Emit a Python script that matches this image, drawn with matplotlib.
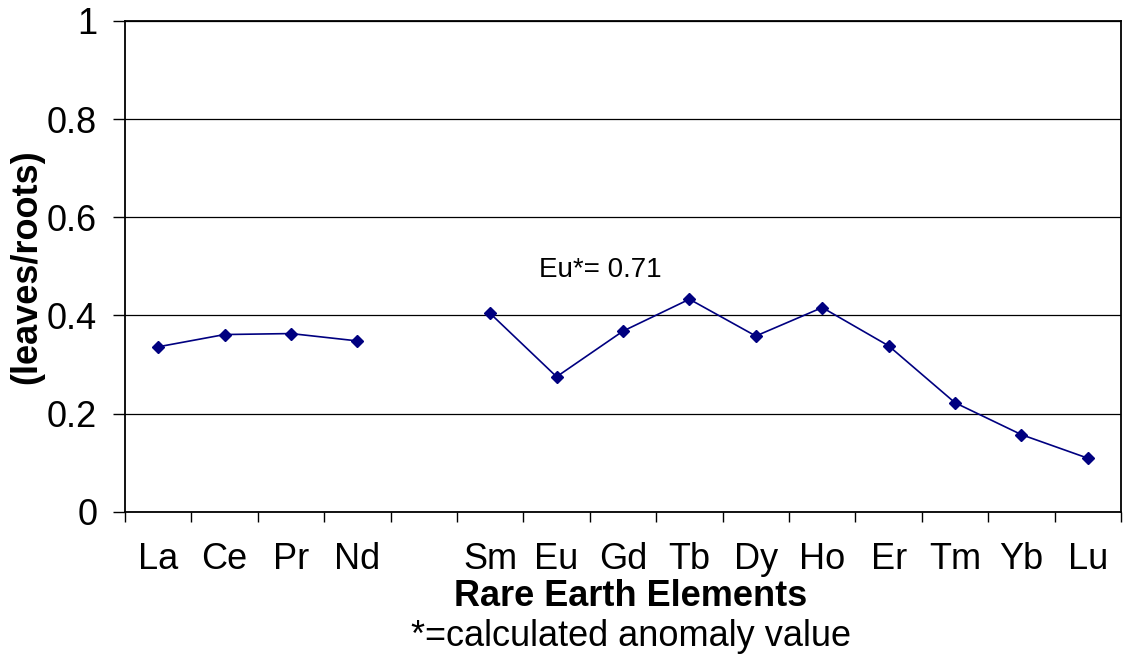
import numpy as np
import matplotlib.pyplot as plt
from matplotlib.ticker import FixedLocator, NullFormatter

plt.rcParams['font.family'] = ['Liberation Sans', 'DejaVu Sans']

# categories (Pm left blank in the original)
elements = ['La', 'Ce', 'Pr', 'Nd', '', 'Sm', 'Eu', 'Gd', 'Tb', 'Dy', 'Ho', 'Er', 'Tm', 'Yb', 'Lu']
# leaves/roots ratio, None = no value
ratio = [0.336, 0.361, 0.363, 0.348, None, 0.404, 0.275, 0.368, 0.433, 0.358, 0.416, 0.338, 0.222, 0.157, 0.109]
y_ticks = [0, 0.2, 0.4, 0.6, 0.8, 1]
y_tick_labels = ['0', '0.2', '0.4', '0.6', '0.8', '1']
note = 'Eu*= 0.71'

fig = plt.figure(figsize=(11.31, 6.66), dpi=100)
ax = fig.add_axes([0.1105, 0.2317, 0.8807, 0.7368])

x = np.arange(len(elements))
y = np.array([np.nan if v is None else v for v in ratio])
ax.plot(x, y, color='#000080', lw=1.2, marker='D', ms=6.5, mfc='#000080', mec='#000080', zorder=3)

ax.set_xlim(-0.5, len(elements) - 0.5)
ax.set_ylim(0, 1)

# gridlines
ax.set_yticks(y_ticks)
ax.set_yticklabels(y_tick_labels, fontsize=26)
ax.yaxis.grid(True, color='black', lw=0.9)
ax.set_axisbelow(True)
ax.tick_params(axis='y', direction='out', length=9, width=1, pad=11)

# x ticks at category boundaries, labels at centres
ax.xaxis.set_major_locator(FixedLocator(np.arange(-0.5, len(elements), 1.0)))
ax.xaxis.set_major_formatter(NullFormatter())
ax.xaxis.set_minor_locator(FixedLocator(x))
ax.set_xticklabels(elements, minor=True, fontsize=26)
ax.tick_params(axis='x', which='major', direction='out', length=7, width=1)
ax.tick_params(axis='x', which='minor', length=0, pad=22)

for s in ax.spines.values():
    s.set_color('black')
    s.set_linewidth(1.3)

ax.text(6.66, 0.492, note, fontsize=20, ha='center', va='center')

ax.set_ylabel('(leaves/roots)', fontsize=26, fontweight='bold', labelpad=2)
fig.text(0.558, 1 - 597 / 666, 'Rare Earth Elements', fontsize=26, fontweight='bold',
         ha='center', va='center')
fig.text(0.558, 1 - 636 / 666, '*=calculated anomaly value', fontsize=26,
         ha='center', va='center')

fig.savefig('out.png', dpi=100)
